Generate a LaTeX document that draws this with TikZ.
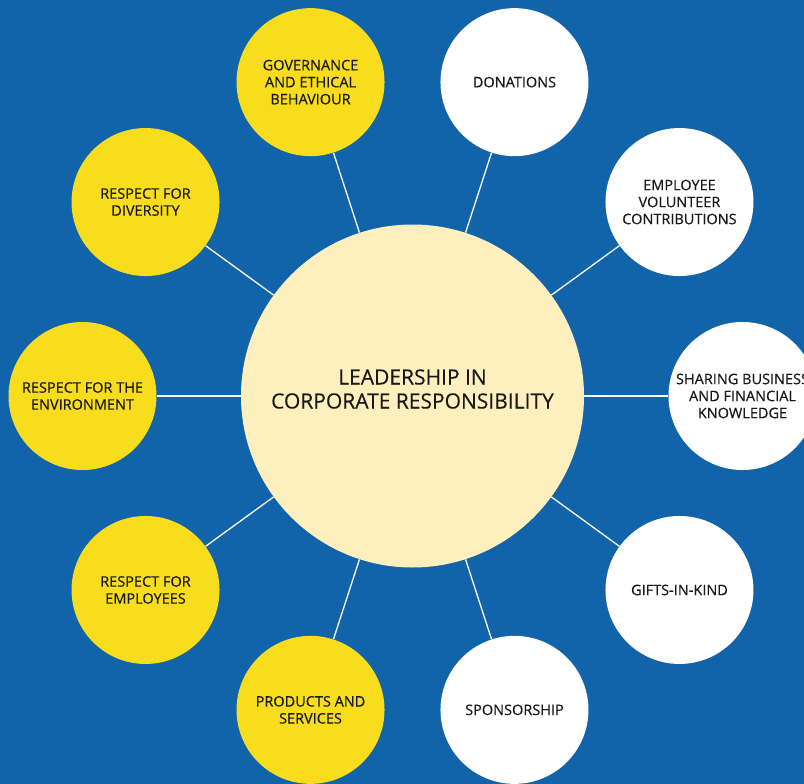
\documentclass[tikz,border=0pt]{standalone}
\usepackage{fontspec}
\setmainfont{Open Sans}[FakeBold=0.3]
\usetikzlibrary{calc}
\definecolor{bgblue}{RGB}{17,99,170}
\definecolor{hubfill}{RGB}{254,240,190}
\definecolor{petal}{RGB}{247,221,30}
\definecolor{ink}{RGB}{25,25,25}
\begin{document}
\begin{tikzpicture}[x=1pt,y=-1pt,
  hub/.style={circle,fill=hubfill,minimum size=343pt,inner sep=0pt,
    align=center,text=ink,font=\fontsize{21}{24}\selectfont},
  hubtext/.style={align=center,text=ink,font=\fontsize{21}{24}\selectfont},
  topic/.style={circle,minimum size=148pt,inner sep=0pt,align=center,
    text=ink,font=\fontsize{14.5}{17}\selectfont},
  yellowtopic/.style={topic,fill=petal},
  whitetopic/.style={topic,fill=white},
  spoke/.style={draw=white,line width=1.3pt}]
  \useasboundingbox (0,0) rectangle (804,784);
  \clip (0,0) rectangle (804,784);
  \fill[bgblue] (0,0) rectangle (804,784);

  \node[hub] (hub) at (412.5,396) {};
  \node[hubtext] (hublabel) at ($(hub.center)+(0,-7)$) {LEADERSHIP IN\\CORPORATE RESPONSIBILITY};

  % ring of topics, 36 degrees apart, 330pt from the hub centre
  \foreach \name/\ang/\sty/\txt in {
      gov/108/yellowtopic/{GOVERNANCE\\AND ETHICAL\\BEHAVIOUR},
      div/144/yellowtopic/{RESPECT FOR\\DIVERSITY},
      env/180/yellowtopic/{RESPECT FOR THE\\ENVIRONMENT},
      emp/216/yellowtopic/{RESPECT FOR\\EMPLOYEES},
      prod/252/yellowtopic/{PRODUCTS AND\\SERVICES},
      spon/288/whitetopic/{SPONSORSHIP},
      gift/324/whitetopic/{GIFTS-IN-KIND},
      share/0/whitetopic/{SHARING BUSINESS\\AND FINANCIAL\\KNOWLEDGE},
      vol/36/whitetopic/{EMPLOYEE\\VOLUNTEER\\CONTRIBUTIONS},
      don/72/whitetopic/{DONATIONS}} {
    \node[\sty] (\name) at ($(412.5,396)+({330*cos(\ang)},{-330*sin(\ang)})$) {\txt};
  }

  \foreach \name in {gov,div,env,emp,prod,spon,gift,share,vol,don}
    \draw[spoke] (hub) -- (\name);
\end{tikzpicture}
\end{document}
